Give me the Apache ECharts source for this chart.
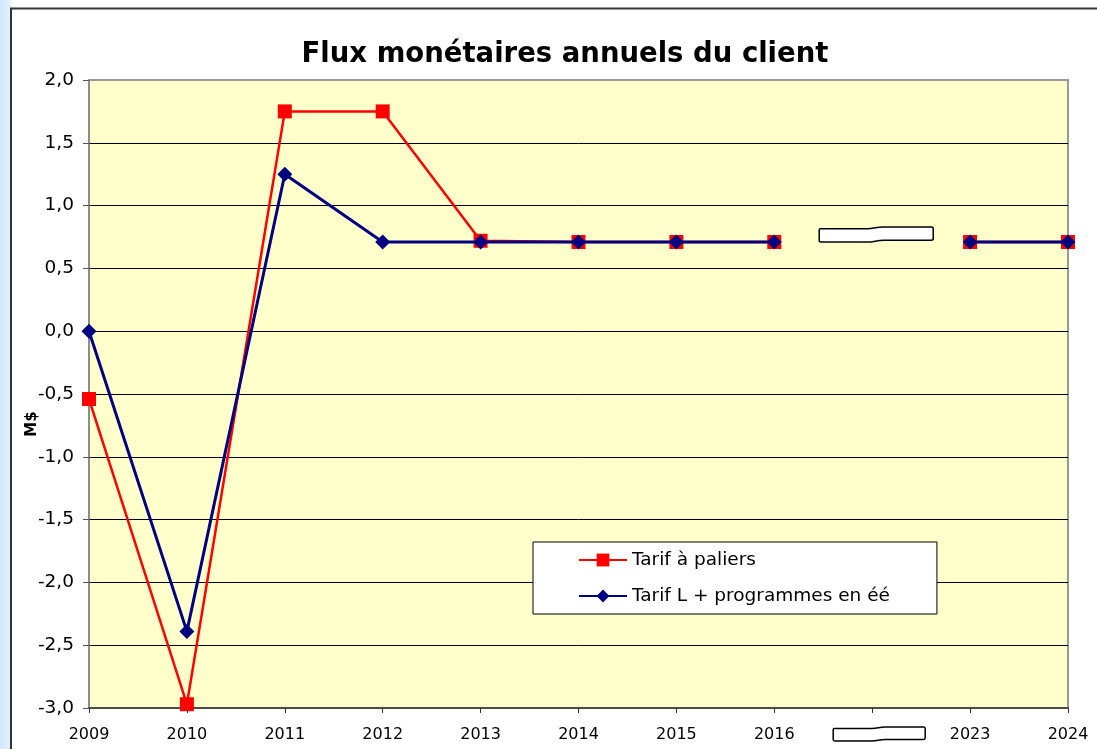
<!DOCTYPE html>
<html>
<head>
<meta charset="utf-8">
<script src="https://cdn.jsdelivr.net/npm/echarts@6/dist/echarts.min.js"></script>
<style>
html,body{margin:0;padding:0;background:#fff;}
#c{width:1097px;height:749px;}
</style>
</head>
<body>
<div id="c"></div>
<script>
const categories = ['2009','2010','2011','2012','2013','2014','2015','2016','','2023','2024'];
const tarifPaliers = [-0.54, -2.97, 1.75, 1.75, 0.72, 0.71, 0.71, 0.71, null, 0.71, 0.71];
const tarifL = [0, -2.39, 1.25, 0.71, 0.71, 0.71, 0.71, 0.71, null, 0.71, 0.71];
const breakPoint = [[8, 0.77]];
const seriesNames = ['Tarif à paliers', 'Tarif L + programmes en éé'];
const titleText = 'Flux monétaires annuels du client';
const yName = 'M$';

const FONT = '"DejaVu Sans", "Liberation Sans", Arial, sans-serif';
const breakPath = 'M1,1.7 L48,1.7 C54,1.7 58,0 64,0 L112,0 Q114,0 114,1.5 L114,11.8 Q114,13.3 112,13.3 L64,13.3 C58,13.3 54,15 48,15 L2,15 Q0,15 0,13.5 L0,3.2 Q0,1.7 1,1.7 Z';

const chart = echarts.init(document.getElementById('c'), null, {renderer: 'canvas'});
chart.setOption({
  animation: false,
  backgroundColor: '#fff',
  graphic: [
    {type: 'rect', shape: {x: 0, y: 0, width: 11, height: 749}, z: -10,
     style: {fill: new echarts.graphic.LinearGradient(0, 0, 1, 0, [{offset: 0, color: '#cfe6fb'}, {offset: 1, color: '#e4f2fd'}])}},
    {type: 'polyline', shape: {points: [[11, 760], [11, 8.5], [1110, 8.5]]}, z: -5,
     style: {stroke: '#333', lineWidth: 2, fill: null}},
    {type: 'text', x: 32, y: 424, rotation: Math.PI / 2,
     style: {text: yName, font: 'bold 15px ' + FONT, fill: '#000', align: 'center', verticalAlign: 'middle'}}
  ],
  title: {
    text: titleText, left: 560, top: 36, textAlign: 'center',
    textStyle: {fontFamily: FONT, fontWeight: 'bold', fontSize: 27.5, color: '#000'}
  },
  legend: {
    orient: 'vertical', left: 533, top: 542,
    data: seriesNames,
    backgroundColor: '#fff', borderColor: '#000', borderWidth: 1, borderRadius: 0,
    padding: [8, 47, 8, 45], itemGap: 16, itemWidth: 48, itemHeight: 16,
    textStyle: {fontFamily: FONT, fontSize: 18.5, color: '#000', lineHeight: 20}
  },
  grid: {
    left: 89, top: 80, right: 29, bottom: 41, show: true,
    backgroundColor: '#FFFFCC', borderColor: '#999', borderWidth: 2
  },
  xAxis: {
    type: 'category', data: categories, boundaryGap: false,
    axisLine: {onZero: false, lineStyle: {color: '#333', width: 1.5}},
    axisTick: {show: true, length: 5, lineStyle: {color: '#333'}},
    axisLabel: {fontFamily: FONT, fontSize: 16, color: '#000', margin: 19, interval: 0}
  },
  yAxis: {
    type: 'value', min: -3, max: 2, interval: 0.5,
    axisLine: {show: true, lineStyle: {color: '#888', width: 1.5}},
    axisTick: {show: true, length: 6, lineStyle: {color: '#555'}},
    axisLabel: {fontFamily: FONT, fontSize: 18.5, color: '#000', margin: 15,
      formatter: v => v.toFixed(1).replace('.', ',')},
    splitLine: {show: true, showMinLine: false, showMaxLine: false, lineStyle: {color: '#000', width: 1}}
  },
  series: [
    {name: seriesNames[0], type: 'line', data: tarifPaliers, connectNulls: false,
     symbol: 'rect', symbolSize: 14, color: '#FF0000',
     lineStyle: {color: '#FF0000', width: 2.5}, itemStyle: {color: '#FF0000'}, z: 3},
    {name: seriesNames[1], type: 'line', data: tarifL, connectNulls: false,
     symbol: 'diamond', symbolSize: 15, color: '#000080',
     lineStyle: {color: '#000080', width: 3}, itemStyle: {color: '#000080'}, z: 4},
    {type: 'custom', data: breakPoint, silent: true, clip: false, z: 5,
     renderItem: function (params, api) {
       const p = api.coord([api.value(0), api.value(1)]);
       const base = api.coord([api.value(0), -3]);
       return {type: 'group', children: [
         {type: 'path', shape: {pathData: breakPath, x: p[0] - 53, y: p[1] - 7.5, width: 114, height: 15, layout: 'cover'},
          style: {fill: '#fff', stroke: '#000', lineWidth: 1.5}},
         {type: 'path', shape: {pathData: breakPath, x: p[0] - 39, y: base[1] + 19, width: 92, height: 14, layout: 'cover'},
          style: {fill: '#fff', stroke: '#000', lineWidth: 1.5}}
       ]};
     }}
  ]
});
</script>
</body>
</html>
